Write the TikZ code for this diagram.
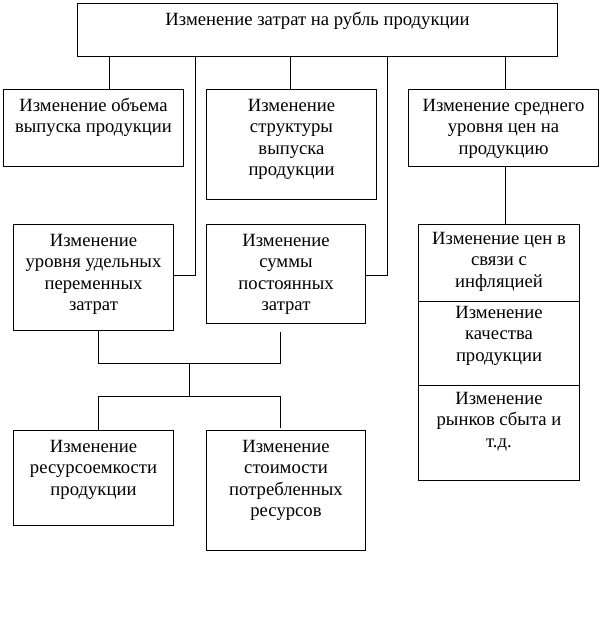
\documentclass[tikz,border=0pt]{standalone}
\usepackage{fontspec}
\setmainfont{Liberation Serif}
\begin{document}
\begin{tikzpicture}[x=1pt,y=-1pt,
  box/.style={draw, line width=1pt, inner sep=0pt, anchor=north west},
  txt/.style={anchor=north, align=center, inner sep=0pt, font=\fontsize{18.67}{21.5}\selectfont},
  conn/.style={line width=1pt}]
\useasboundingbox (0,0) rectangle (604,629);
% boxes
\node[box, minimum width=480pt, minimum height=53pt] (T) at (77,3) {};
\node[box, minimum width=180pt, minimum height=77pt] (B1) at (3,89) {};
\node[box, minimum width=170pt, minimum height=110pt] (B2) at (206,89) {};
\node[box, minimum width=190pt, minimum height=77pt] (B3) at (408,89) {};
\node[box, minimum width=160pt, minimum height=106pt] (B4) at (13,224) {};
\node[box, minimum width=159pt, minimum height=99pt] (B5) at (206,224) {};
\node[box, minimum width=161pt, minimum height=77pt] (R1) at (418,224) {};
\node[box, minimum width=161pt, minimum height=84pt] (R2) at (418,301) {};
\node[box, minimum width=161pt, minimum height=95pt] (R3) at (418,385) {};
\node[box, minimum width=160pt, minimum height=95pt] (B6) at (13,430) {};
\node[box, minimum width=159pt, minimum height=120pt] (B7) at (206,430) {};
% texts
\node[txt] (tT) at ([yshift=-7pt]T.north) {\strut Изменение затрат на рубль продукции};
\node[txt] (tB1) at ([yshift=-7pt]B1.north) {\strut Изменение объема\\выпуска продукции};
\node[txt] (tB2) at ([yshift=-7pt]B2.north) {\strut Изменение\\структуры\\выпуска\\продукции};
\node[txt] (tB3) at ([yshift=-7pt]B3.north) {\strut Изменение среднего\\уровня цен на\\продукцию};
\node[txt] (tB4) at ([yshift=-7pt]B4.north) {\strut Изменение\\уровня удельных\\переменных\\затрат};
\node[txt] (tB5) at ([yshift=-7pt]B5.north) {\strut Изменение\\суммы\\постоянных\\затрат};
\node[txt] (tR1) at ([yshift=-5pt]R1.north) {\strut Изменение цен в\\связи с\\инфляцией};
\node[txt] (tR2) at ([yshift=-2pt]R2.north) {\strut Изменение\\качества\\продукции};
\node[txt] (tR3) at ([yshift=-4pt]R3.north) {\strut Изменение\\рынков сбыта и\\т.д.};
\node[txt] (tB6) at ([yshift=-7pt]B6.north) {\strut Изменение\\ресурсоемкости\\продукции};
\node[txt] (tB7) at ([yshift=-7pt]B7.north) {\strut Изменение\\стоимости\\потребленных\\ресурсов};
% connectors
\coordinate (j1) at (195,275);
\coordinate (j2) at (387,275);
\coordinate (h1) at (189,363);
\coordinate (h2) at (189,396);
\coordinate (b5s) at (280,332);
\coordinate (b7n) at (280,428);
\draw[conn] (T.south -| 109,0) -- (B1.north -| 109,0);
\draw[conn] (T.south -| 290,0) -- (B2.north -| 290,0);
\draw[conn] (T.south -| 505,0) -- (B3.north -| 505,0);
\draw[conn] (T.south -| j1) -- (j1) -- (B4.east |- j1);
\draw[conn] (T.south -| j2) -- (j2) -- (B5.east |- j2);
\draw[conn] (B3.south -| 505,0) -- (R1.north -| 505,0);
\draw[conn] (B4.south -| 98,0) -- (98,363) -- (b5s |- h1) -- (b5s);
\draw[conn] (h1) -- (h2);
\draw[conn] (B6.north -| 98,0) -- (98,396) -- (b7n |- h2) -- (b7n);
\end{tikzpicture}
\end{document}
